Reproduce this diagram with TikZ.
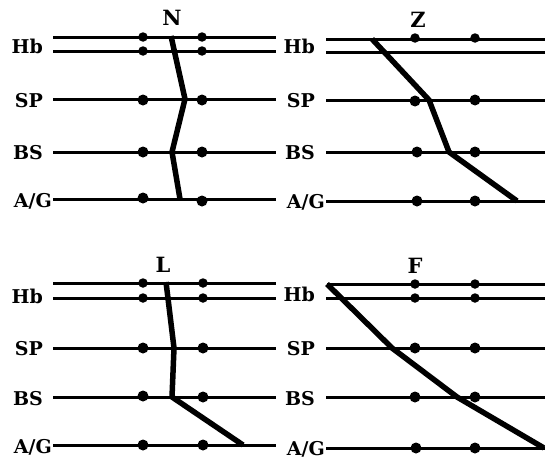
\documentclass[tikz,border=0pt]{standalone}
\usepackage{fontspec}
\setmainfont{DejaVu Serif}
\begin{document}
\begin{tikzpicture}[x=1pt,y=-1pt,
  track/.style={line width=3pt,black},
  route/.style={line width=5.5pt,black,line join=miter},
  bigdot/.style={circle,fill=black,inner sep=0pt,minimum size=11pt},
  smalldot/.style={circle,fill=black,inner sep=0pt,minimum size=9.5pt},
  lab/.style={font=\bfseries\fontsize{19}{19}\selectfont,anchor=base east,inner sep=0pt},
  ttl/.style={font=\bfseries\fontsize{21}{21}\selectfont,anchor=base,inner sep=0pt}]
\useasboundingbox (0,0) rectangle (545,463);

% ---------- panel N (top left)
\node[ttl] (tN) at (172,25) {N};
\node[lab] (hbN) at (43,53) {Hb};
\node[lab] (spN) at (43,107) {SP};
\node[lab] (bsN) at (43,159) {BS};
\node[lab] (agN) at (52,207) {A/G};
\draw[track] (53,37) -- (276,37);
\draw[track] (53,51) -- (276,51);
\draw[track] (53,99) -- (276,99);
\draw[track] (53,152) -- (276,152);
\draw[track] (53,199) -- (276,199);
\node[smalldot] (n1a) at (143,37) {}; \node[smalldot] (n1b) at (202,37) {};
\node[smalldot] (n2a) at (143,51) {}; \node[smalldot] (n2b) at (202,51) {};
\node[bigdot] (n3a) at (143,100) {}; \node[bigdot] (n3b) at (202,100) {};
\node[bigdot] (n4a) at (143,152) {}; \node[bigdot] (n4b) at (202,152) {};
\node[bigdot] (n5a) at (143,198) {}; \node[bigdot] (n5b) at (202,201) {};
\coordinate (Na) at (171,36);
\coordinate (Nb) at (185,99);
\coordinate (Nc) at (172,152);
\coordinate (Nd) at (180,199);
\draw[route] (Na) -- (Nb) -- (Nc) -- (Nd);

% ---------- panel Z (top right)
\node[ttl] (tZ) at (418,27) {Z};
\node[lab] (hbZ) at (315,53) {Hb};
\node[lab] (spZ) at (315,107) {SP};
\node[lab] (bsZ) at (315,159) {BS};
\node[lab] (agZ) at (325,208) {A/G};
\draw[track] (326,39) -- (545,39);
\draw[track] (326,52) -- (545,52);
\draw[track] (326,100) -- (545,100);
\draw[track] (326,152) -- (545,152);
\draw[track] (326,201) -- (545,201);
\node[smalldot] (z1a) at (415,38) {}; \node[smalldot] (z1b) at (475,38) {};
\node[bigdot] (z3a) at (415,101) {}; \node[bigdot] (z3b) at (475,100) {};
\node[bigdot] (z4a) at (417,152) {}; \node[bigdot] (z4b) at (475,152) {};
\node[bigdot] (z5a) at (417,201) {}; \node[bigdot] (z5b) at (475,201) {};
\coordinate (Za) at (372,39);
\coordinate (Zb) at (429,100);
\coordinate (Zc) at (449,152);
\coordinate (Zd) at (517,201);
\draw[route] (Za) -- (Zb) -- (Zc) -- (Zd);

% ---------- panel L (bottom left)
\node[ttl] (tL) at (163,272) {L};
\node[lab] (hbL) at (43,303) {Hb};
\node[lab] (spL) at (43,355) {SP};
\node[lab] (bsL) at (43,405) {BS};
\node[lab] (agL) at (52,453) {A/G};
\draw[track] (53,283) -- (276,283);
\draw[track] (53,298) -- (276,298);
\draw[track] (53,348) -- (276,348);
\draw[track] (53,397) -- (276,397);
\draw[track] (53,445) -- (276,445);
\node[smalldot] (l1a) at (143,283) {}; \node[smalldot] (l1b) at (203,283) {};
\node[smalldot] (l2a) at (143,298) {}; \node[smalldot] (l2b) at (203,298) {};
\node[bigdot] (l3a) at (143,348) {}; \node[bigdot] (l3b) at (203,348) {};
\node[bigdot] (l4a) at (143,396) {}; \node[bigdot] (l4b) at (203,397) {};
\node[bigdot] (l5a) at (143,445) {}; \node[bigdot] (l5b) at (203,445) {};
\coordinate (La) at (166,282);
\coordinate (Lb) at (174,348);
\coordinate (Lc) at (172,397);
\coordinate (Ld) at (243,445);
\draw[route] (La) -- (Lb) -- (Lc) -- (Ld);

% ---------- panel F (bottom right)
\node[ttl] (tF) at (415,273) {F};
\node[lab] (hbF) at (315,301) {Hb};
\node[lab] (spF) at (315,355) {SP};
\node[lab] (bsF) at (315,405) {BS};
\node[lab] (agF) at (325,455) {A/G};
\draw[track] (327,284) -- (545,284);
\draw[track] (326,298) -- (545,298);
\draw[track] (326,348) -- (545,348);
\draw[track] (326,397) -- (545,397);
\draw[track] (326,448) -- (545,448);
\node[smalldot] (f1a) at (415,284) {}; \node[smalldot] (f1b) at (475,284) {};
\node[smalldot] (f2a) at (415,298) {}; \node[smalldot] (f2b) at (475,298) {};
\node[bigdot] (f3a) at (415,348) {}; \node[bigdot] (f3b) at (475,348) {};
\node[bigdot] (f4a) at (415,397) {}; \node[bigdot] (f4b) at (475,397) {};
\node[bigdot] (f5a) at (416,448) {}; \node[bigdot] (f5b) at (475,448) {};
\coordinate (Fa) at (327,284);
\coordinate (Fb) at (392,348);
\coordinate (Fc) at (457,397);
\coordinate (Fd) at (544,448);
\draw[route] (Fa) -- (Fb) -- (Fc) -- (Fd);
\end{tikzpicture}
\end{document}
